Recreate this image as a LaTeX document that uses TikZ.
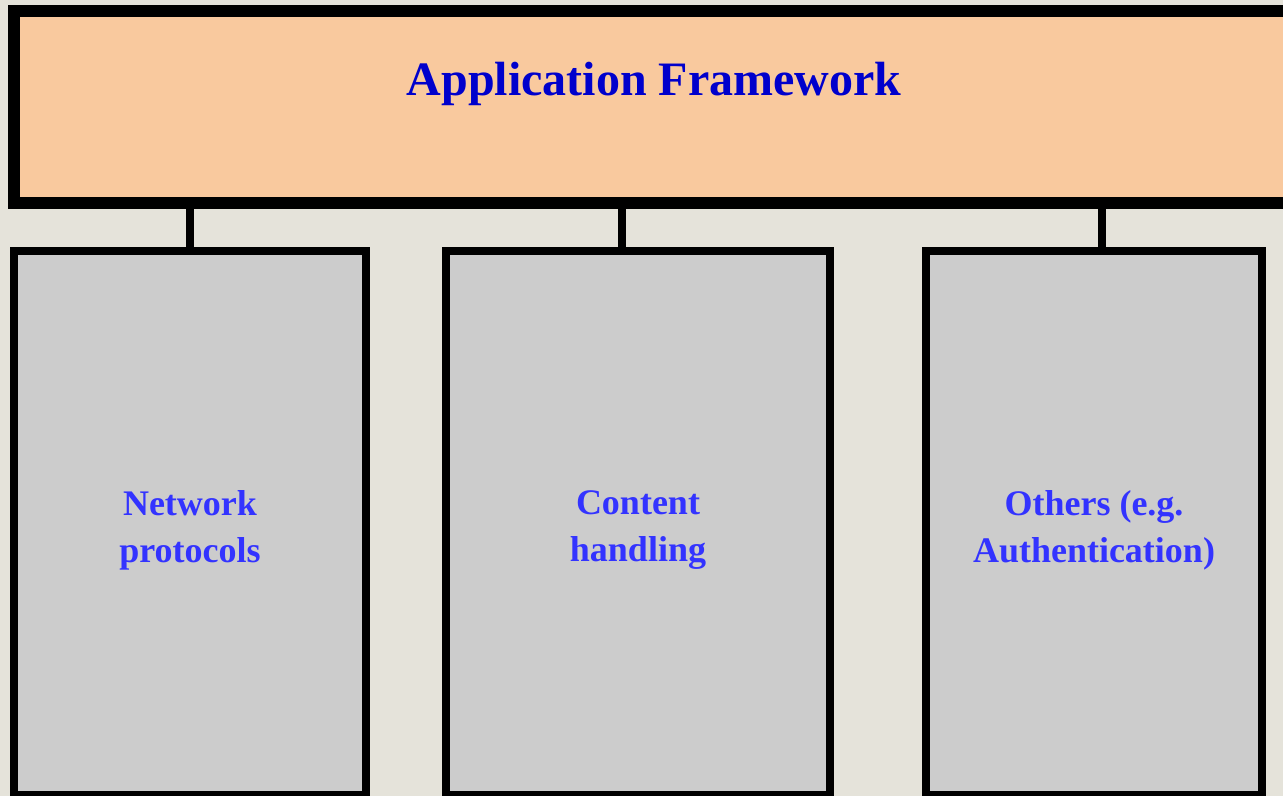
\documentclass[tikz,border=0pt]{standalone}
\usepackage{fontspec}
\setmainfont{Liberation Serif}
\usepackage{tikz}
\usetikzlibrary{positioning}

\definecolor{paper}{HTML}{E5E3DA}
\definecolor{peach}{HTML}{F9C99E}
\definecolor{panel}{HTML}{CCCCCC}
\definecolor{titleblue}{HTML}{0000CC}
\definecolor{textblue}{HTML}{3333FF}

% first line sits a bit lower in the panels
\newcommand{\panelstrut}{\rule{0pt}{29pt}}

\tikzset{
  frame/.style={draw=black, line width=9pt, fill=peach, outer sep=0pt,
    inner sep=0pt, minimum width=964.5pt, minimum height=144pt},
  panelbox/.style={draw=black, line width=6pt, fill=panel, outer sep=0pt,
    inner sep=0pt, minimum height=408pt, align=center, text=textblue,
    font=\bfseries\fontsize{27}{35.25}\selectfont},
  link/.style={draw=black, line width=6pt}
}

\begin{document}
\begin{tikzpicture}[x=0.75pt,y=-0.75pt]

\useasboundingbox (0,0) rectangle (1283,796);
\fill[paper] (0,0) rectangle (1283,796);
\clip (0,0) rectangle (1283,796);

% top frame
\node[frame] (app) at (657,107) {};
\node[anchor=base, text=titleblue, inner sep=0pt,
      font=\bfseries\fontsize{36}{40}\selectfont] (title) at (654,95)
  {Application Framework};

% lower panels
\node[panelbox, minimum width=264pt] (network) at (190,523)
  {\panelstrut Network\\protocols};
\node[panelbox, minimum width=288pt] (content) at (638,523)
  {\panelstrut Content\\handling};
\node[panelbox, minimum width=252pt] (others) at (1094,523)
  {\panelstrut Others (e.g.\\Authentication)};

% connectors
\coordinate (c1) at (190,0);
\coordinate (c2) at (622,0);
\coordinate (c3) at (1102,0);
\draw[link] (app.south -| c1) -- (network.north -| c1);
\draw[link] (app.south -| c2) -- (content.north -| c2);
\draw[link] (app.south -| c3) -- (others.north -| c3);

\end{tikzpicture}
\end{document}
